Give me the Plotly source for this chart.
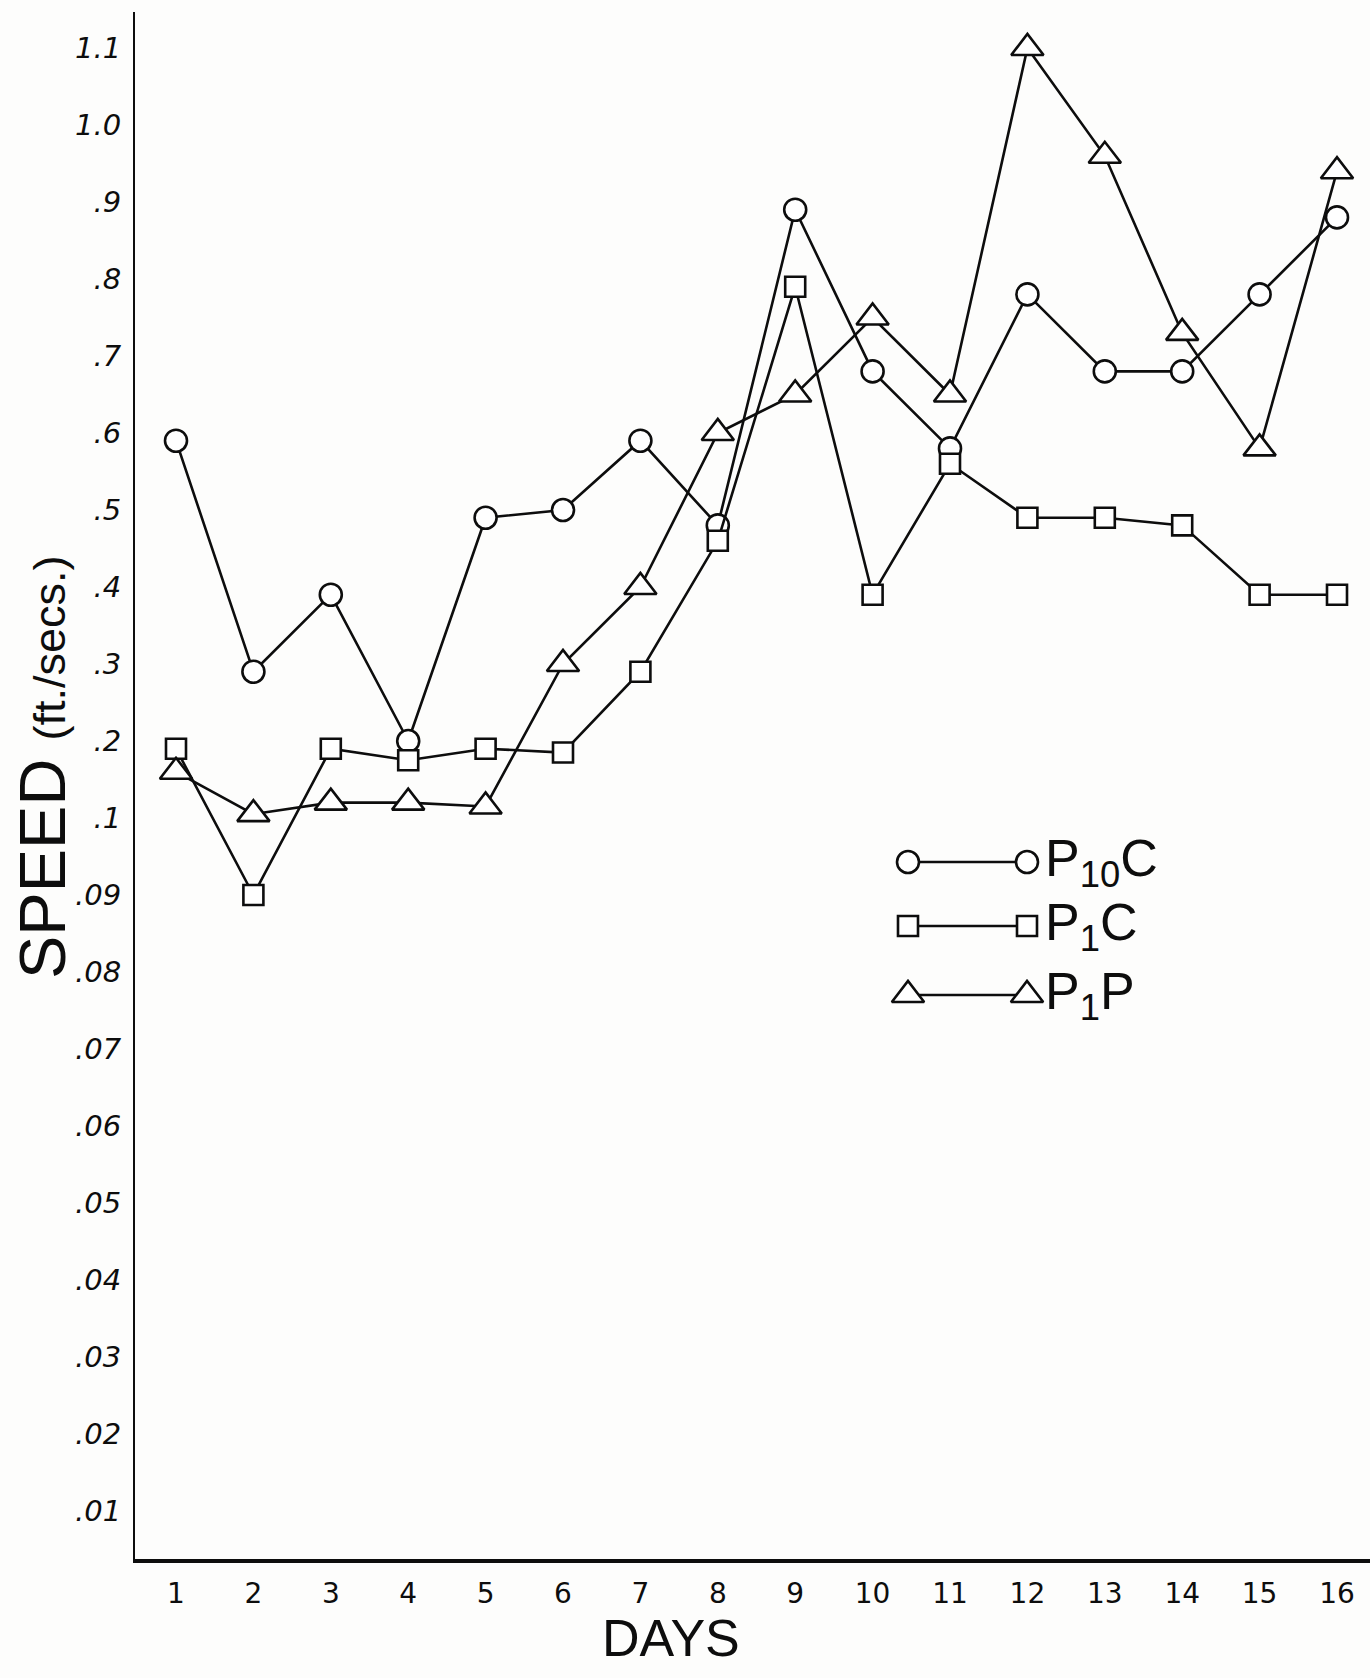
import plotly.graph_objects as go

# Speed (ft./sec.) per day for the three groups
days = list(range(1, 17))
p10c = [0.59, 0.29, 0.39, 0.20, 0.49, 0.50, 0.59, 0.48, 0.89, 0.68, 0.58, 0.78, 0.68, 0.68, 0.78, 0.88]
p1c = [0.19, 0.09, 0.19, 0.175, 0.19, 0.185, 0.29, 0.46, 0.79, 0.39, 0.56, 0.49, 0.49, 0.48, 0.39, 0.39]
p1p = [0.16, 0.105, 0.12, 0.12, 0.115, 0.30, 0.40, 0.60, 0.65, 0.75, 0.65, 1.10, 0.96, 0.73, 0.58, 0.94]

y_tick_values = [0.01, 0.02, 0.03, 0.04, 0.05, 0.06, 0.07, 0.08, 0.09,
                 0.1, 0.2, 0.3, 0.4, 0.5, 0.6, 0.7, 0.8, 0.9, 1.0, 1.1]
y_tick_labels = [".01", ".02", ".03", ".04", ".05", ".06", ".07", ".08", ".09",
                 ".1", ".2", ".3", ".4", ".5", ".6", ".7", ".8", ".9", "1.0", "1.1"]
x_tick_labels = [str(d) for d in days]

series_names = ["P<sub>10</sub>C", "P<sub>1</sub>C", "P<sub>1</sub>P"]


def speed_scale(v):
    """Piecewise axis: hundredths below 0.1, tenths above, each tick one unit apart."""
    return v * 100 if v < 0.1 else 9 + v * 10


W, H = 1370, 1678
ML, MR, MT, MB = 135, 0, 12, 119
PW, PH = W - ML - MR, H - MT - MB
INK = "#0d0d0d"
LW = 2.6


def paper_x(px):
    return (px - ML) / PW


def paper_y(py):
    return 1 - (py - MT) / PH


styles = [
    dict(symbol="circle", size=22),
    dict(symbol="square", size=20),
    dict(symbol="triangle-up", size=28),
]

fig = go.Figure()

for name, vals, st in zip(series_names, [p10c, p1c, p1p], styles):
    fig.add_trace(go.Scatter(
        x=days,
        y=[speed_scale(v) for v in vals],
        mode="lines+markers",
        name=name,
        line=dict(color=INK, width=LW),
        marker=dict(symbol=st["symbol"], size=st["size"], color="white",
                    line=dict(color=INK, width=LW)),
        cliponaxis=False,
        showlegend=False,
    ))

# Hand-drawn style key: marker, rule, marker, label (positioned in pixel space)
key_rows = [862, 926, 995]
key_x = [908, 1027]
for name, row, st in zip(series_names, key_rows, styles):
    fig.add_trace(go.Scatter(
        x=key_x, y=[row, row], xaxis="x2", yaxis="y2",
        mode="lines+markers",
        line=dict(color=INK, width=LW),
        marker=dict(symbol=st["symbol"], size=st["size"], color="white",
                    line=dict(color=INK, width=LW)),
        cliponaxis=False, showlegend=False, hoverinfo="skip",
    ))
    fig.add_annotation(
        x=paper_x(1043), y=paper_y(row), xref="paper", yref="paper", text=name,
        showarrow=False, xanchor="left", yanchor="middle",
        font=dict(family="Liberation Sans, Arial, sans-serif", size=52, color=INK),
    )

fig.add_annotation(
    x=paper_x(42), y=paper_y(768), xref="paper", yref="paper",
    text="SPEED <span style='font-size:45px'>(ft./secs.)</span>",
    textangle=-90, showarrow=False, xanchor="center", yanchor="middle",
    font=dict(family="Liberation Sans, Arial, sans-serif", size=65, color=INK),
)
fig.add_annotation(
    x=paper_x(671), y=paper_y(1638), xref="paper", yref="paper",
    text="DAYS", showarrow=False, xanchor="center", yanchor="middle",
    font=dict(family="Liberation Sans, Arial, sans-serif", size=52, color=INK),
)

day_px = 77.4
first_day_px = 176
x_lo = 1 - (first_day_px - ML) / day_px
x_hi = x_lo + PW / day_px

tick_px = 77
y_lo = 1 - (H - MB - 1511) / tick_px
y_hi = y_lo + PH / tick_px

fig.update_layout(
    width=W, height=H,
    margin=dict(l=ML, r=MR, t=MT, b=MB),
    paper_bgcolor="#fdfdfc",
    plot_bgcolor="#fdfdfc",
    xaxis=dict(
        range=[x_lo, x_hi], tickmode="array", tickvals=days, ticktext=x_tick_labels,
        showgrid=False, zeroline=False, showline=True, linecolor=INK, linewidth=4,
        ticks="", ticklabelstandoff=6,
        tickfont=dict(family="DejaVu Sans, sans-serif", size=28, color=INK),
    ),
    yaxis=dict(
        range=[y_lo, y_hi], tickmode="array",
        tickvals=[speed_scale(v) for v in y_tick_values], ticktext=y_tick_labels,
        showgrid=False, zeroline=False, showline=True, linecolor=INK, linewidth=2,
        ticks="", ticklabelstandoff=6,
        tickfont=dict(family="DejaVu Sans, sans-serif", size=29, color=INK, style="italic"),
    ),
    xaxis2=dict(range=[ML, W - MR], overlaying="x", visible=False),
    yaxis2=dict(range=[H - MB, MT], overlaying="y", visible=False),
    showlegend=False,
)

fig.write_html("out.html")
